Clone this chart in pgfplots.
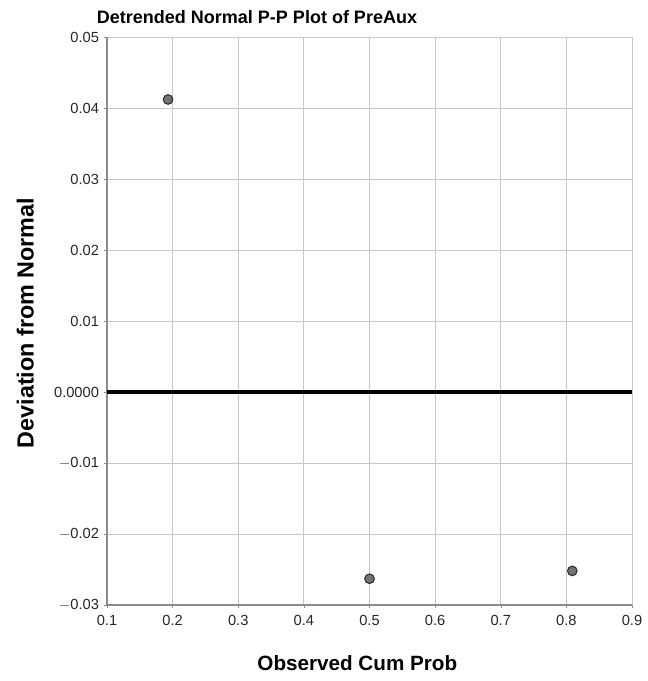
\documentclass[border=0pt]{standalone}
\usepackage{pgfplots}
\pgfplotsset{compat=1.18}
\usepackage{fontspec}
\setmainfont{Liberation Sans}
\definecolor{gridgray}{HTML}{C8C8C8}
\definecolor{axgray}{HTML}{8C8C8C}
\definecolor{ptfill}{HTML}{737373}
\definecolor{ptedge}{HTML}{2E2E2E}
\begin{document}
\begin{tikzpicture}
% page frame 647x681 px at 0.75pt per px
\useasboundingbox (0,0) rectangle (485.25pt,510.75pt);
\begin{axis}[
    at={(80.25pt,57pt)}, anchor=south west,
    scale only axis,
    width=393.75pt, height=426pt,
    xmin=0.1, xmax=0.9,
    ymin=-0.03, ymax=0.05,
    axis lines=left,
    axis line style={axgray, line width=0.8pt, -},
    scaled y ticks=false, scaled x ticks=false,
    xtick={0.1,0.2,...,0.9},
    xticklabels={0.1,0.2,0.3,0.4,0.5,0.6,0.7,0.8,0.9},
    ytick={-0.03,-0.02,-0.01,0,0.01,0.02,0.03,0.04,0.05},
    yticklabels={$-$0.03,$-$0.02,$-$0.01,0.0000,0.01,0.02,0.03,0.04,0.05},
    grid=major,
    major grid style={gridgray, line width=0.7pt},
    tick align=outside,
    major tick length=2.5pt,
    tick style={axgray},
    ticklabel style={font=\fontsize{11}{13}\selectfont, text=black!85},
    xticklabel style={yshift=-2pt},
    clip=false,
]
% reference line at zero
\addplot[black, line width=3pt] coordinates {(0.1,0) (0.9,0)};
% observed points
\addplot[only marks, mark=*, mark size=3.6pt,
    mark options={fill=ptfill, draw=ptedge, line width=0.8pt}]
    coordinates {(0.193,0.0412) (0.500,-0.0263) (0.809,-0.0252)};
\end{axis}
\node[font=\bfseries\fontsize{13.5}{15}\selectfont] at (192.75pt,498pt)
    {Detrended Normal P-P Plot of PreAux};
\node[font=\bfseries\fontsize{17.5}{19}\selectfont, rotate=90] at (19pt,268.5pt)
    {Deviation from Normal};
\node[font=\bfseries\fontsize{15.5}{18}\selectfont] at (268pt,13.5pt)
    {Observed Cum Prob};
\end{tikzpicture}
\end{document}
